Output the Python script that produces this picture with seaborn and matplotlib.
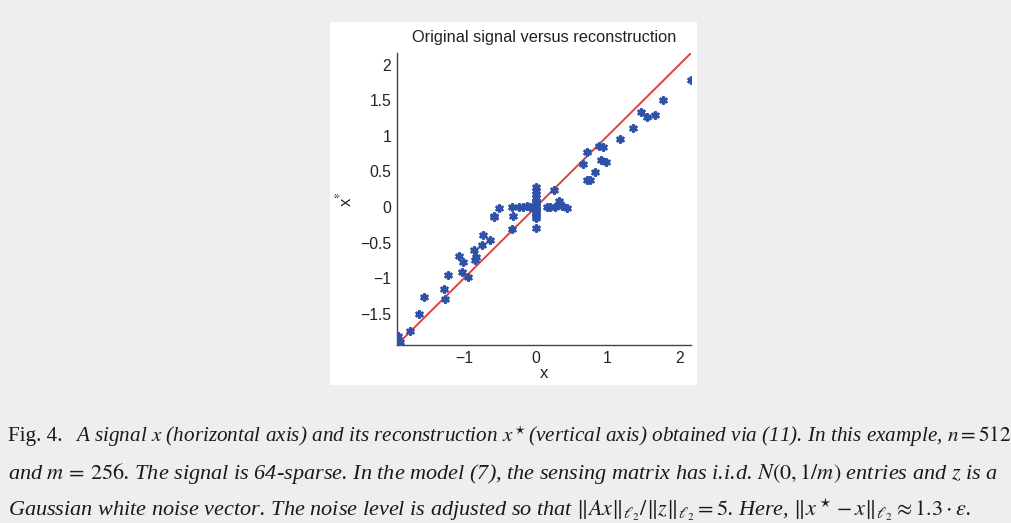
import pandas as pd
import seaborn as sns
import matplotlib.pyplot as plt
from matplotlib.patches import Rectangle

# original signal values (horizontal) and reconstruction (vertical)
x_orig = [-1.94, -1.92, -1.90, -1.91, -1.755, -1.625, -1.56, -1.275, -1.266, -1.22,
          -1.07, -1.01, -1.03, -0.95, -0.86, -0.84, -0.85, -0.744, -0.73, -0.646,
          -0.59, -0.58, -0.51, -0.33, -0.32, -0.33, -0.23, -0.18, -0.12, -0.08,
          0.0, 0.0, 0.0, 0.0, 0.0, 0.0, 0.0, 0.0, 0.0, 0.0, 0.0, 0.0, 0.0, 0.0,
          0.16, 0.20, 0.25, 0.27, 0.32, 0.34, 0.37, 0.43,
          0.66, 0.72, 0.715, 0.75, 0.82, 0.88, 0.94, 0.91, 0.98,
          1.17, 1.35, 1.47, 1.555, 1.66, 1.77, 2.16]
x_rec = [-1.96, -1.81, -1.90, -1.93, -1.745, -1.50, -1.27, -1.146, -1.29, -0.95,
         -0.69, -0.77, -0.91, -0.99, -0.61, -0.70, -0.75, -0.53, -0.39, -0.46,
         -0.145, -0.13, -0.02, 0.0, -0.13, -0.31, 0.0, 0.0, 0.01, 0.0,
         0.28, 0.23, 0.18, 0.13, 0.09, 0.05, 0.02, 0.0, -0.03, -0.06, -0.09, -0.12, -0.155, -0.30,
         0.0, 0.0, 0.245, 0.0, 0.09, 0.04, 0.02, -0.01,
         0.60, 0.77, 0.386, 0.38, 0.49, 0.86, 0.84, 0.66, 0.63,
         0.95, 1.11, 1.34, 1.27, 1.30, 1.50, 1.79]

y_ticks = [-1.5, -1, -0.5, 0, 0.5, 1, 1.5, 2]
y_tick_labels = ['\u22121.5', '\u22121', '\u22120.5', '0', '0.5', '1', '1.5', '2']
x_ticks = [-1, 0, 1, 2]
x_tick_labels = ['\u22121', '0', '1', '2']

data = pd.DataFrame({'x': x_orig, 'xstar': x_rec})
lo, hi = min(x_orig), max(x_orig)
diag = pd.DataFrame({'x': [lo, hi], 'y': [lo, hi]})

sns.set_style('white')
plt.rcParams['font.family'] = ['Liberation Sans', 'DejaVu Sans']
plt.rcParams['mathtext.fontset'] = 'stix'

fig = plt.figure(figsize=(10.11, 5.23), dpi=100, facecolor='#efeeee')
# white panel behind the plot
fig.patches.append(Rectangle((0.3264, 0.2639), 0.363, 0.694, transform=fig.transFigure,
                             facecolor='white', edgecolor='none', zorder=-10))
ax = fig.add_axes([0.3924, 0.3403, 0.2908, 0.5577])
ax.set_facecolor('none')
ax.set_zorder(5)

sns.scatterplot(data=data, x='x', y='xstar', ax=ax, marker=(6, 2, 0), s=20,
                color='#2f52a8', edgecolor='#2f52a8', linewidth=2.0, zorder=3)
sns.lineplot(data=diag, x='x', y='y', ax=ax, color='#e2403f', linewidth=1.4, zorder=2)

ax.set_xlim(lo, hi)
ax.set_ylim(lo, hi)
ax.set_xticks(x_ticks)
ax.set_xticklabels(x_tick_labels)
ax.set_yticks(y_ticks)
ax.set_yticklabels(y_tick_labels)
ax.tick_params(direction='in', length=4, width=0.8, color='#333333',
               labelsize=11.3, labelcolor='#222222', pad=4)
for side in ['top', 'right']:
    ax.spines[side].set_visible(False)
for side in ['left', 'bottom']:
    ax.spines[side].set_color('#444444')
    ax.spines[side].set_linewidth(1.0)

ax.set_title('Original signal versus reconstruction', fontsize=11.8, color='#222222', pad=8)
ax.set_xlabel('x', fontsize=12, color='#222222', labelpad=0)
ax.set_ylabel('x$^{*}$', fontsize=12, color='#222222', labelpad=4)

# caption
cap = dict(family=['Liberation Serif', 'DejaVu Serif'], color='#1a1a1a',
           va='center', ha='left')
fig.text(0.008, 0.166, 'Fig. 4.', fontsize=15.2, **cap)
fig.text(0.074, 0.166, r'A signal $x$ (horizontal axis) and its reconstruction $x^\star$(vertical axis) '
         r'obtained via (11). In this example, $n=512$', style='italic', fontsize=15.2, **cap)
fig.text(0.008, 0.095, r'and $m\,=\,256$. The signal is 64-sparse. In the model (7), the sensing matrix '
         r'has i.i.d. $N(0,1/m)$ entries and $z$ is a', style='italic', fontsize=16, **cap)
fig.text(0.008, 0.025, r'Gaussian white noise vector. The noise level is adjusted so that '
         r'$\Vert Ax\Vert_{\ell_2}/\Vert z\Vert_{\ell_2}=5$. Here, '
         r'$\Vert x^\star - x\Vert_{\ell_2} \approx 1.3\cdot\epsilon$.', style='italic', fontsize=16, **cap)

fig.savefig('out.png', dpi=100, facecolor=fig.get_facecolor())
